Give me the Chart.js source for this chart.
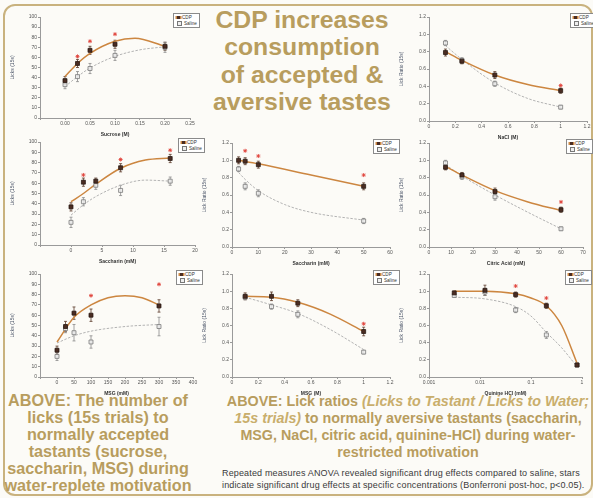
<!DOCTYPE html>
<html>
<head>
<meta charset="utf-8">
<script src="https://cdn.jsdelivr.net/npm/chart.js@4.4.0/dist/chart.umd.min.js"></script>
<style>
body { margin:0; width:593px; height:498px; background:#fcfbf7; position:relative; overflow:hidden; font-family:"Liberation Sans", Arial, sans-serif; }
.frame { position:absolute; left:3px; top:4px; width:586px; height:488px; border:2px solid #c9b27e; border-radius:12px; }
.plot { position:absolute; }
.legend { position:absolute; border:0.6px solid #8a8a8a; background:#fff; font-size:4.6px; line-height:6px; padding:0.5px 2px 0.5px 1.5px; color:#333; white-space:nowrap; }
.mk { display:inline-block; width:3px; height:3px; margin:0 2px 0 1.5px; vertical-align:middle; }
.mk.cdp { background:#4a2c22; box-shadow:-1.5px 0 0 #c98744, 1.5px 0 0 #c98744; }
.mk.sal { background:#eee; border:0.5px solid #777; }
.title { position:absolute; left:190px; width:224px; top:6px; text-align:center; font-weight:bold; font-size:24.8px; line-height:27.3px; color:#b89d5e; white-space:nowrap; }
.capL { position:absolute; left:0; width:196px; top:392px; text-align:center; font-weight:bold; font-size:16.2px; line-height:17.1px; color:#b89d5e; white-space:nowrap; }
.capC { position:absolute; left:208px; width:400px; top:393px; text-align:center; font-weight:bold; font-size:14.3px; line-height:17px; color:#b89d5e; white-space:nowrap; }
.capC i { color:#c9ae6c; }
.note { position:absolute; left:222px; top:467px; font-size:9px; letter-spacing:0.15px; line-height:12px; color:#3a3a3a; white-space:nowrap; }
</style>
</head>
<body>
<div class="frame"></div>
<div class="title">CDP increases<br>consumption<br>of accepted &amp;<br>aversive tastes</div>
<div class="capL">ABOVE: The number of<br>licks (15s trials) to<br>normally accepted<br>tastants (sucrose,<br>saccharin, MSG) during<br>water-replete motivation</div>
<div class="capC">ABOVE: Lick ratios <i>(Licks to Tastant / Licks to Water;</i><br><i>15s trials)</i> to normally aversive tastants (saccharin,<br>MSG, NaCl, citric acid, quinine-HCl) during water-<br>restricted motivation</div>
<div class="note">Repeated measures ANOVA revealed significant drug effects compared to saline, stars<br>indicate significant drug effects at specific concentrations (Bonferroni post-hoc, p&lt;0.05).</div>
<script>
// ---- licks, water-replete ----
const sucroseConc = [0, 0.025, 0.05, 0.1, 0.2];
const sucroseCdp = [37, 54, 67, 73, 71];
const sucroseCdpSem = [4, 4, 4, 4, 4];
const sucroseSal = [33, 41, 49, 62, 70];
const sucroseSalSem = [4, 5, 5, 5, 5];
const sucroseStars = [null, 61, 76, 83, null];
const sucroseCdpFitX = [0, 0.025, 0.05, 0.1, 0.14, 0.2];
const sucroseCdpFitY = [41, 54, 64, 76, 79, 71];
const sucroseSalFitX = [0, 0.025, 0.05, 0.1, 0.15, 0.2];
const sucroseSalFitY = [31, 41, 49.5, 61, 67.5, 70.5];

const saccConc = [0, 2, 4, 8, 16];
const saccCdp = [37, 61, 62, 75, 84];
const saccCdpSem = [4, 4, 3, 4, 4];
const saccSal = [22, 42, 58, 53, 62];
const saccSalSem = [5, 4, 4, 5, 4];
const saccStars = [null, 68, null, 83, 92];
const saccCdpFitX = [0, 2, 4, 8, 12, 16];
const saccCdpFitY = [42, 50, 59, 74.5, 82.5, 84.5];
const saccSalFitX = [0, 2, 4, 8, 12, 16];
const saccSalFitY = [29, 39, 47, 58, 63, 62];

const msgConc = [0, 25, 50, 100, 300];
const msgCdp = [26, 49, 62, 60, 69];
const msgCdpSem = [4, 5, 6, 6, 6];
const msgSal = [20, 47, 43, 34, 49];
const msgSalSem = [4, 4, 8, 6, 9];
const msgStars = [null, null, null, 79, 90];
const msgCdpFitX = [0, 50, 100, 150, 200, 250, 300];
const msgCdpFitY = [34, 58, 70, 77, 79, 77, 70];
const msgSalFitX = [0, 50, 100, 200, 300];
const msgSalFitY = [33, 40, 44.5, 49, 51];

// ---- lick ratios, water-restricted ----
const naclConc = [0.125, 0.25, 0.5, 1];
const naclCdp = [0.79, 0.69, 0.53, 0.35];
const naclCdpSem = [0.04, 0.03, 0.04, 0.03];
const naclSal = [0.9, 0.7, 0.43, 0.16];
const naclSalSem = [0.03, 0.03, 0.03, 0.02];
const naclStars = [null, null, null, 0.41];
const naclFitX = [0.125, 0.25, 0.5, 0.75, 1];
const naclCdpFitY = [0.8, 0.7, 0.53, 0.42, 0.35];
const naclSalFitY = [0.87, 0.71, 0.44, 0.26, 0.16];

const saccRConc = [2.5, 5, 10, 50];
const saccRCdp = [1.0, 0.99, 0.95, 0.7];
const saccRCdpSem = [0.04, 0.04, 0.04, 0.04];
const saccRSal = [0.9, 0.7, 0.62, 0.3];
const saccRSalSem = [0.03, 0.04, 0.04, 0.03];
const saccRStars = [null, 1.11, 1.05, 0.83];
const saccRCdpFitX = [2.5, 10, 30, 50];
const saccRCdpFitY = [1.0, 0.96, 0.83, 0.7];
const saccRSalFitX = [2.5, 5, 10, 20, 30, 50];
const saccRSalFitY = [0.86, 0.78, 0.65, 0.49, 0.4, 0.31];

const citConc = [7.5, 15, 30, 60];
const citCdp = [0.92, 0.83, 0.64, 0.43];
const citCdpSem = [0.03, 0.03, 0.04, 0.03];
const citSal = [0.97, 0.81, 0.58, 0.21];
const citSalSem = [0.03, 0.03, 0.04, 0.02];
const citStars = [null, null, null, 0.52];
const citFitX = [7.5, 15, 30, 45, 60];
const citCdpFitY = [0.93, 0.83, 0.65, 0.52, 0.42];
const citSalFitY = [0.95, 0.82, 0.6, 0.4, 0.21];

const msgRConc = [0.1, 0.3, 0.5, 1];
const msgRCdp = [0.94, 0.94, 0.86, 0.53];
const msgRCdpSem = [0.04, 0.05, 0.04, 0.05];
const msgRSal = [0.93, 0.82, 0.73, 0.29];
const msgRSalSem = [0.03, 0.03, 0.04, 0.02];
const msgRStars = [null, null, null, 0.62];
const msgRFitX = [0.1, 0.3, 0.5, 0.75, 1];
const msgRCdpFitY = [0.94, 0.93, 0.87, 0.73, 0.53];
const msgRSalFitY = [0.93, 0.84, 0.74, 0.55, 0.32];

const quinConc = [0.003125, 0.0125, 0.05, 0.2, 0.8];
const quinCdp = [0.98, 1.01, 0.96, 0.83, 0.14];
const quinCdpSem = [0.02, 0.06, 0.03, 0.03, 0.02];
const quinSal = [0.95, 0.99, 0.78, 0.49, 0.14];
const quinSalSem = [0.02, 0.04, 0.03, 0.04, 0.02];
const quinStars = [null, null, 1.06, 0.92, null];
const quinFitX = [0.003125, 0.0125, 0.05, 0.1, 0.2, 0.4, 0.8];
const quinCdpFitY = [1.0, 1.0, 0.97, 0.92, 0.83, 0.6, 0.16];
const quinSalFitY = [0.93, 0.91, 0.82, 0.71, 0.52, 0.34, 0.12];

const quinTicks = [0.001, 0.01, 0.1, 1];

const PAD_L = 30, PAD_T = 6, PAD_R = 6, PAD_B = 20;

function pts(xs, ys) {
    const out = [];
    for (var i = 0; i < xs.length; i++) {
        if (ys[i] != null) out.push({x: xs[i], y: ys[i]});
    }
    return out;
}

// Excel style error bars, drawn under the markers
const errorBars = {
    id: 'errorBars',
    beforeDatasetsDraw(chart) {
        const ctx = chart.ctx, x = chart.scales.x, y = chart.scales.y;
        chart.data.datasets.forEach((ds) => {
            if (!ds.err) return;
            ctx.save();
            ctx.strokeStyle = ds.errColor;
            ctx.lineWidth = 0.8;
            ds.data.forEach((p, j) => {
                const px = x.getPixelForValue(p.x);
                const t = y.getPixelForValue(p.y + ds.err[j]);
                const b = y.getPixelForValue(p.y - ds.err[j]);
                ctx.beginPath();
                ctx.moveTo(px, t); ctx.lineTo(px, b);
                ctx.moveTo(px - 1.5, t); ctx.lineTo(px + 1.5, t);
                ctx.moveTo(px - 1.5, b); ctx.lineTo(px + 1.5, b);
                ctx.stroke();
            });
            ctx.restore();
        });
    }
};

function axisBase() {
    return {
        grid: {drawOnChartArea: false, tickLength: 2, color: '#9a9a9a'},
        border: {color: '#9a9a9a', width: 1},
        ticks: {font: {size: 5}, color: '#555', padding: 1, maxRotation: 0, autoSkip: false}
    };
}

function addPlot(p) {
    const w = p.right - p.left + PAD_L + PAD_R;
    const h = p.bottom - p.top + PAD_T + PAD_B;
    const cv = document.createElement('canvas');
    cv.className = 'plot';
    cv.width = w; cv.height = h;
    cv.style.left = (p.left - PAD_L) + 'px';
    cv.style.top = (p.top - PAD_T) + 'px';
    cv.style.width = w + 'px'; cv.style.height = h + 'px';
    document.body.appendChild(cv);

    const xAxis = axisBase();
    xAxis.type = p.log ? 'logarithmic' : 'linear';
    xAxis.min = p.xmin; xAxis.max = p.xmax;
    if (!p.log) xAxis.ticks.stepSize = p.xstep;
    // Excel left the label under the vertical axis blank on the licks charts
    xAxis.ticks.callback = (v) => v < -1e-9 ? '' : p.xfmt(Math.abs(v) < 1e-9 ? 0 : v);
    xAxis.title = {display: true, text: p.xtitle, font: {size: 5, weight: 'bold'}, color: '#333', padding: 0};
    xAxis.afterFit = (s) => { s.height = PAD_B; };
    if (p.log) xAxis.afterBuildTicks = (s) => { s.ticks = quinTicks.map(v => ({value: v})); };

    const yAxis = axisBase();
    yAxis.min = 0; yAxis.max = p.ymax;
    yAxis.ticks.stepSize = p.ystep;
    yAxis.ticks.callback = p.yfmt;
    yAxis.title = {display: true, text: p.ytitle, font: {size: 5}, color: '#4a5468', padding: 0};
    yAxis.afterFit = (s) => { s.width = PAD_L; };

    new Chart(cv.getContext('2d'), {
        type: 'scatter',
        data: {
            datasets: [{
                label: 'CDP', data: pts(p.conc, p.cdp), err: p.cdpSem, errColor: '#5a3a2a',
                pointStyle: 'rect', pointRadius: 2.8, backgroundColor: '#4a2c22', borderColor: '#2a1a14', borderWidth: 0.8, order: 1
            }, {
                label: 'Saline', data: pts(p.conc, p.sal), err: p.salSem, errColor: '#8a8a8a',
                pointStyle: 'rect', pointRadius: 2.8, backgroundColor: 'rgba(236,236,236,0.85)', borderColor: '#7a7a7a', borderWidth: 0.8, order: 2
            }, {
                label: 'CDP fit', data: pts(p.cdpFitX, p.cdpFitY), showLine: true, cubicInterpolationMode: 'monotone',
                borderColor: '#cc8640', borderWidth: 1.5, pointRadius: 0, order: 3
            }, {
                label: 'Saline fit', data: pts(p.salFitX, p.salFitY), showLine: true, cubicInterpolationMode: 'monotone',
                borderColor: '#b3b3b3', borderWidth: 1, borderDash: [2.5, 1.5], pointRadius: 0, order: 4
            }, {
                label: 'sig', data: pts(p.conc, p.stars), pointStyle: 'star', pointRadius: 2,
                borderColor: '#e0433b', borderWidth: 0.9, order: 0
            }]
        },
        options: {
            responsive: false,
            animation: false,
            layout: {padding: {top: PAD_T, right: PAD_R, left: 0, bottom: 0}},
            plugins: {legend: {display: false}, tooltip: {enabled: false}},
            scales: {x: xAxis, y: yAxis}
        },
        plugins: [errorBars]
    });

    const lg = document.createElement('div');
    lg.className = 'legend';
    lg.style.left = (p.right - 17) + 'px';
    lg.style.top = (p.top - 4) + 'px';
    lg.innerHTML = '<div><span class="mk cdp"></span>CDP</div><div><span class="mk sal"></span>Saline</div>';
    document.body.appendChild(lg);
}

const fmtInt = (v) => String(v);
const fmtDec1 = (v) => v.toFixed(1);
const fmtGen = (v) => String(Math.round(v * 10) / 10);

addPlot({left: 40, top: 17, right: 190, bottom: 118, conc: sucroseConc, cdp: sucroseCdp, cdpSem: sucroseCdpSem,
    sal: sucroseSal, salSem: sucroseSalSem, stars: sucroseStars, cdpFitX: sucroseCdpFitX, cdpFitY: sucroseCdpFitY,
    salFitX: sucroseSalFitX, salFitY: sucroseSalFitY, xmin: -0.05, xmax: 0.25, xstep: 0.05, xfmt: (v) => v.toFixed(2),
    ymax: 100, ystep: 10, yfmt: fmtInt, xtitle: 'Sucrose (M)', ytitle: 'Licks (15s)'});

addPlot({left: 429, top: 17, right: 587, bottom: 121, conc: naclConc, cdp: naclCdp, cdpSem: naclCdpSem,
    sal: naclSal, salSem: naclSalSem, stars: naclStars, cdpFitX: naclFitX, cdpFitY: naclCdpFitY,
    salFitX: naclFitX, salFitY: naclSalFitY, xmin: 0, xmax: 1.2, xstep: 0.2, xfmt: fmtGen,
    ymax: 1.2, ystep: 0.2, yfmt: fmtDec1, xtitle: 'NaCl (M)', ytitle: 'Lick Ratio (15s)'});

addPlot({left: 40, top: 142, right: 195, bottom: 245, conc: saccConc, cdp: saccCdp, cdpSem: saccCdpSem,
    sal: saccSal, salSem: saccSalSem, stars: saccStars, cdpFitX: saccCdpFitX, cdpFitY: saccCdpFitY,
    salFitX: saccSalFitX, salFitY: saccSalFitY, xmin: -5, xmax: 20, xstep: 5, xfmt: fmtInt,
    ymax: 100, ystep: 10, yfmt: fmtInt, xtitle: 'Saccharin (mM)', ytitle: 'Licks (15s)'});

addPlot({left: 232, top: 143, right: 390, bottom: 247, conc: saccRConc, cdp: saccRCdp, cdpSem: saccRCdpSem,
    sal: saccRSal, salSem: saccRSalSem, stars: saccRStars, cdpFitX: saccRCdpFitX, cdpFitY: saccRCdpFitY,
    salFitX: saccRSalFitX, salFitY: saccRSalFitY, xmin: 0, xmax: 60, xstep: 10, xfmt: fmtInt,
    ymax: 1.2, ystep: 0.2, yfmt: fmtDec1, xtitle: 'Saccharin (mM)', ytitle: 'Lick Ratio (15s)'});

addPlot({left: 429, top: 143, right: 583, bottom: 247, conc: citConc, cdp: citCdp, cdpSem: citCdpSem,
    sal: citSal, salSem: citSalSem, stars: citStars, cdpFitX: citFitX, cdpFitY: citCdpFitY,
    salFitX: citFitX, salFitY: citSalFitY, xmin: 0, xmax: 70, xstep: 10, xfmt: fmtInt,
    ymax: 1.2, ystep: 0.2, yfmt: fmtDec1, xtitle: 'Citric Acid (mM)', ytitle: 'Lick Ratio (15s)'});

addPlot({left: 40, top: 274, right: 193, bottom: 377, conc: msgConc, cdp: msgCdp, cdpSem: msgCdpSem,
    sal: msgSal, salSem: msgSalSem, stars: msgStars, cdpFitX: msgCdpFitX, cdpFitY: msgCdpFitY,
    salFitX: msgSalFitX, salFitY: msgSalFitY, xmin: -50, xmax: 400, xstep: 50, xfmt: fmtInt,
    ymax: 100, ystep: 10, yfmt: fmtInt, xtitle: 'MSG (mM)', ytitle: 'Licks (15s)'});

addPlot({left: 232, top: 274, right: 390, bottom: 377, conc: msgRConc, cdp: msgRCdp, cdpSem: msgRCdpSem,
    sal: msgRSal, salSem: msgRSalSem, stars: msgRStars, cdpFitX: msgRFitX, cdpFitY: msgRCdpFitY,
    salFitX: msgRFitX, salFitY: msgRSalFitY, xmin: 0, xmax: 1.2, xstep: 0.2, xfmt: fmtGen,
    ymax: 1.2, ystep: 0.2, yfmt: fmtDec1, xtitle: 'MSG (M)', ytitle: 'Lick Ratio (15s)'});

addPlot({left: 429, top: 274, right: 582, bottom: 377, log: true, conc: quinConc, cdp: quinCdp, cdpSem: quinCdpSem,
    sal: quinSal, salSem: quinSalSem, stars: quinStars, cdpFitX: quinFitX, cdpFitY: quinCdpFitY,
    salFitX: quinFitX, salFitY: quinSalFitY, xmin: 0.001, xmax: 1, xfmt: (v) => String(v),
    ymax: 1.2, ystep: 0.2, yfmt: fmtDec1, xtitle: 'Quinine HCl (mM)', ytitle: 'Lick Ratio (15s)'});
</script>
</body>
</html>
